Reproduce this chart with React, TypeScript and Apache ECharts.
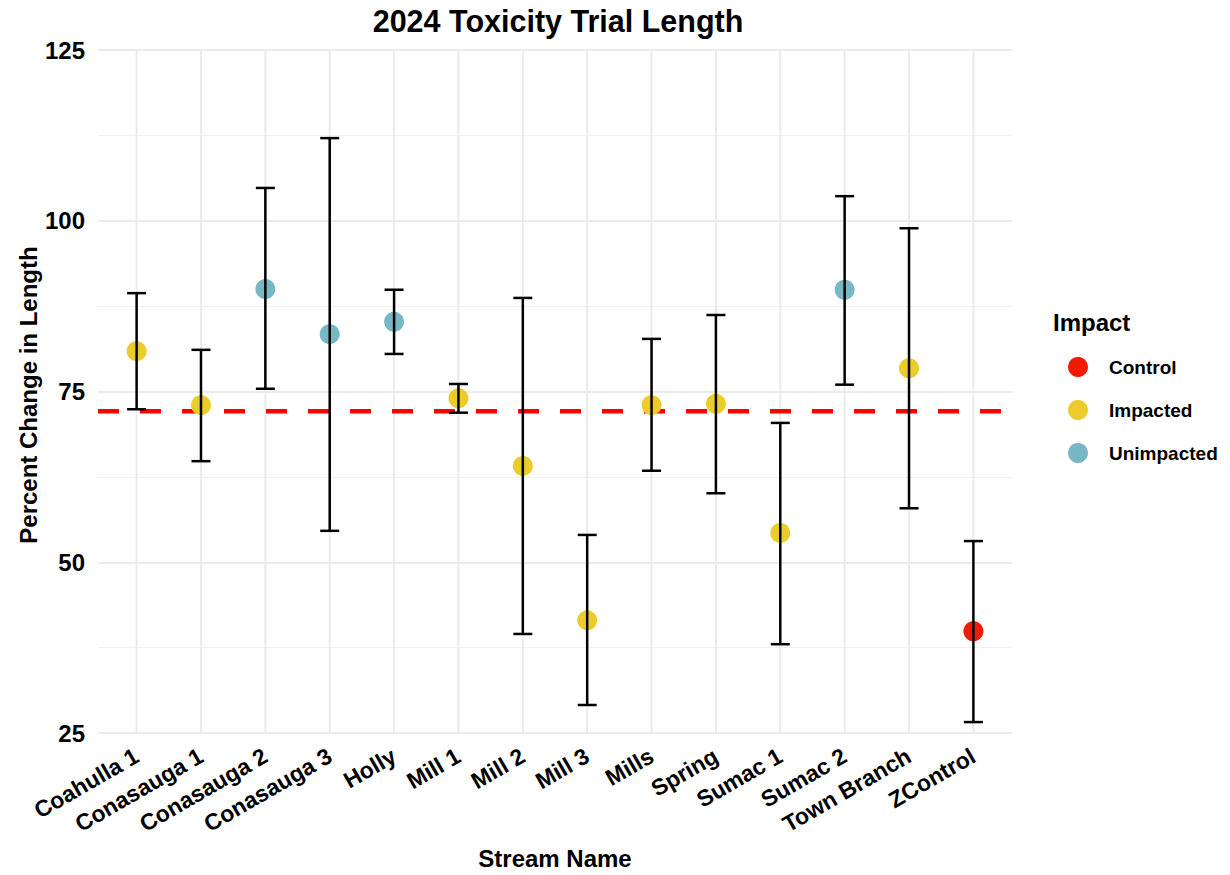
import React, { useEffect, useRef } from "react";
import * as echarts from "echarts";

const categories = [
  "Coahulla 1", "Conasauga 1", "Conasauga 2", "Conasauga 3", "Holly", "Mill 1", "Mill 2",
  "Mill 3", "Mills", "Spring", "Sumac 1", "Sumac 2", "Town Branch", "ZControl",
];
const means = [80.9, 73.0, 90.0, 83.4, 85.2, 74.0, 64.1, 41.5, 73.0, 73.2, 54.3, 89.9, 78.4, 39.9];
const lower = [72.4, 64.8, 75.4, 54.6, 80.5, 71.9, 39.5, 29.1, 63.4, 60.1, 38.0, 76.0, 57.9, 26.6];
const upper = [89.4, 81.1, 104.8, 112.1, 89.9, 76.1, 88.7, 54.0, 82.7, 86.2, 70.4, 103.6, 98.9, 53.1];
const impact = [
  "Impacted", "Impacted", "Unimpacted", "Unimpacted", "Unimpacted", "Impacted", "Impacted",
  "Impacted", "Impacted", "Impacted", "Impacted", "Unimpacted", "Impacted", "Control",
];
const impactGroups = ["Control", "Impacted", "Unimpacted"];
const groupColors = ["#F21A00", "#EBCC2A", "#78B7C5"];
const controlMean = 72.1;
const yTicks = [25, 50, 75, 100, 125];

const FONT = "'Liberation Sans', Arial, Helvetica, sans-serif";

export default function App() {
  const ref = useRef<HTMLDivElement>(null);
  useEffect(() => {
    document.body.style.margin = "0";
    if (!ref.current) return;
    const chart = echarts.init(ref.current, undefined, { renderer: "svg" });

    const scatterSeries = impactGroups.map((g, gi) => ({
      name: g,
      type: "scatter",
      z: 3,
      symbol: "circle",
      symbolSize: 20,
      itemStyle: { color: groupColors[gi], opacity: 1 },
      data: categories
        .map((_, i) => (impact[i] === g ? [i, means[i]] : null))
        .filter((d) => d !== null),
    }));

    const option: any = {
      animation: false,
      backgroundColor: "#ffffff",
      textStyle: { fontFamily: FONT },
      grid: { left: 98, top: 50, width: 914, height: 683, containLabel: false },
      xAxis: {
        type: "value",
        min: -0.6,
        max: 13.6,
        axisLine: { show: false },
        axisTick: { show: false },
        splitLine: { show: false },
        axisLabel: {
          customValues: categories.map((_, i) => i),
          formatter: (v: number) => categories[Math.round(v)] ?? "",
          rotate: 30,
          margin: 21,
          color: "#000",
          fontWeight: "bold",
          fontSize: 23,
          fontFamily: FONT,
          showMinLabel: true,
          showMaxLabel: true,
        },
      },
      yAxis: {
        type: "value",
        min: yTicks[0],
        max: yTicks[yTicks.length - 1],
        interval: 25,
        axisLine: { show: false },
        axisTick: { show: false },
        axisLabel: {
          color: "#000",
          fontWeight: "bold",
          fontSize: 24,
          margin: 13,
          fontFamily: FONT,
        },
        splitLine: { show: true, lineStyle: { color: "#EBEBEB", width: 2 } },
        minorTick: { show: false, splitNumber: 2 },
        minorSplitLine: { show: true, lineStyle: { color: "#F0F0F0", width: 1 } },
      },
      legend: {
        data: impactGroups,
        orient: "vertical",
        left: 1063,
        top: 352,
        icon: "circle",
        itemWidth: 20,
        itemHeight: 20,
        itemGap: 23,
        textStyle: {
          color: "#000",
          fontWeight: "bold",
          fontSize: 19,
          fontFamily: FONT,
          padding: [0, 0, 0, 16],
        },
      },
      graphic: [
        {
          type: "text",
          x: 558,
          y: 21,
          style: {
            text: "2024 Toxicity Trial Length",
            font: `bold 30.5px ${FONT}`,
            fill: "#000",
            textAlign: "center",
            textVerticalAlign: "middle",
          },
        },
        {
          type: "text",
          x: 555,
          y: 858,
          style: {
            text: "Stream Name",
            font: `bold 24px ${FONT}`,
            fill: "#000",
            textAlign: "center",
            textVerticalAlign: "middle",
          },
        },
        {
          type: "text",
          x: 28,
          y: 395,
          rotation: Math.PI / 2,
          style: {
            text: "Percent Change in Length",
            font: `bold 24px ${FONT}`,
            fill: "#000",
            textAlign: "center",
            textVerticalAlign: "middle",
          },
        },
        {
          type: "text",
          x: 1053,
          y: 322,
          style: {
            text: "Impact",
            font: `bold 24px ${FONT}`,
            fill: "#000",
            textAlign: "left",
            textVerticalAlign: "middle",
          },
        },
      ],
      series: [
        {
          name: "vgrid",
          type: "custom",
          silent: true,
          z: 0,
          data: categories.map((_, i) => [i]),
          renderItem: (params: any, api: any) => {
            const cs = params.coordSys;
            const x = api.coord([api.value(0), 25])[0];
            return {
              type: "line",
              shape: { x1: x, y1: cs.y, x2: x, y2: cs.y + cs.height },
              style: { stroke: "#EBEBEB", lineWidth: 2 },
            };
          },
        },
        {
          name: "hline",
          type: "custom",
          silent: true,
          z: 2,
          data: [[controlMean]],
          renderItem: (params: any, api: any) => {
            const cs = params.coordSys;
            const y = api.coord([0, api.value(0)])[1];
            return {
              type: "line",
              shape: { x1: cs.x, y1: y, x2: cs.x + cs.width, y2: y },
              style: { stroke: "#FF0000", lineWidth: 4.5, lineDash: [21, 21] },
            };
          },
        },
        ...scatterSeries,
        {
          name: "errorbars",
          type: "custom",
          silent: true,
          z: 4,
          data: categories.map((_, i) => [i, lower[i], upper[i]]),
          renderItem: (params: any, api: any) => {
            const i = api.value(0);
            const lo = api.coord([i, api.value(1)]);
            const hi = api.coord([i, api.value(2)]);
            const half = 9.5;
            const st = { stroke: "#000", lineWidth: 2.5 };
            return {
              type: "group",
              children: [
                { type: "line", shape: { x1: lo[0], y1: lo[1], x2: hi[0], y2: hi[1] }, style: st },
                { type: "line", shape: { x1: lo[0] - half, y1: lo[1], x2: lo[0] + half, y2: lo[1] }, style: st },
                { type: "line", shape: { x1: hi[0] - half, y1: hi[1], x2: hi[0] + half, y2: hi[1] }, style: st },
              ],
            };
          },
        },
      ],
    };
    chart.setOption(option);
    return () => chart.dispose();
  }, []);
  return <div ref={ref} style={{ width: 1230, height: 875 }} />;
}
